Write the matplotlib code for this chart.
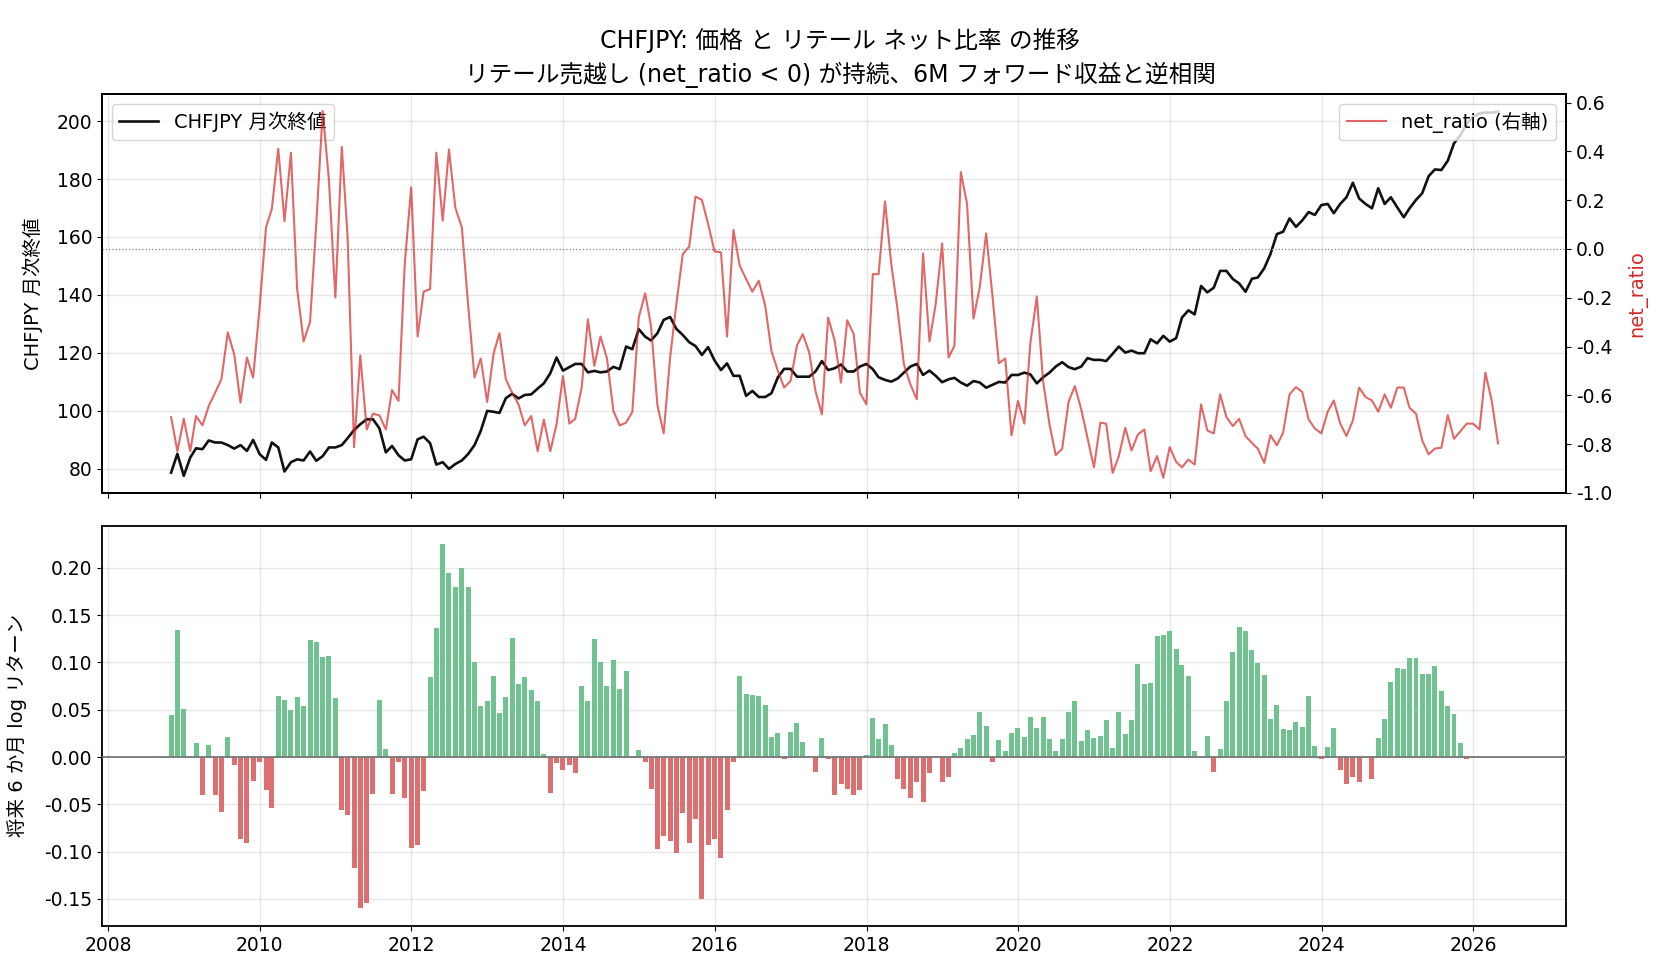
import numpy as np
import pandas as pd
import matplotlib
matplotlib.use("Agg")
import matplotlib.pyplot as plt
import matplotlib.dates as mdates

plt.rcParams['font.family'] = ['DejaVu Sans', 'Noto Sans CJK JP']
plt.rcParams['axes.unicode_minus'] = False

# ---------------- data ----------------
dates = pd.date_range(start="2008-10-31", periods=211, freq="ME")

price = [
    78.7, 85.2, 77.6, 83.9, 87.1, 86.8, 89.8, 89.1, 89.1, 88.2,
    87.0, 88.2, 86.2, 90.0, 85.1, 83.1, 89.1, 87.4, 79.1, 82.3,
    83.3, 82.9, 86.0, 82.8, 84.4, 87.4, 87.4, 88.2, 90.6, 93.4,
    95.4, 97.1, 97.1, 94.0, 85.7, 87.9, 84.7, 82.9, 83.3, 90.2,
    91.1, 88.9, 81.5, 82.3, 80.0, 81.7, 82.9, 85.1, 88.2, 93.1,
    100.0, 99.7, 99.3, 104.4, 105.9, 104.3, 105.5, 105.7, 107.7, 109.5,
    113.0, 118.4, 113.9, 115.1, 116.2, 116.2, 113.3, 113.8, 113.3, 113.6,
    115.2, 114.4, 122.2, 121.3, 128.2, 125.6, 124.3, 126.8, 131.4, 132.4,
    128.3, 126.2, 123.7, 122.4, 119.3, 122.0, 117.4, 114.1, 116.4, 112.1,
    112.1, 105.2, 106.9, 104.8, 104.8, 106.1, 111.6, 114.5, 114.5, 111.8,
    111.8, 111.8, 113.6, 117.2, 114.1, 114.7, 116.0, 113.6, 113.6, 115.3,
    116.2, 114.4, 111.6, 110.7, 110.1, 111.2, 113.2, 115.3, 116.2, 112.4,
    113.9, 112.1, 109.9, 110.9, 111.4, 109.8, 108.7, 110.3, 109.8, 108.0,
    109.0, 110.0, 109.8, 112.4, 112.4, 113.2, 112.6, 109.5, 111.6, 113.2,
    115.3, 116.8, 115.1, 114.4, 115.3, 118.2, 117.6, 117.6, 117.2, 119.7,
    122.2, 120.1, 120.8, 119.9, 119.9, 124.7, 123.3, 125.9, 123.9, 125.1,
    132.2, 134.7, 133.3, 143.1, 140.9, 142.5, 148.3, 148.3, 145.5, 144.0,
    141.1, 145.6, 146.0, 149.2, 154.1, 161.0, 161.8, 166.4, 163.5, 165.7,
    168.6, 167.6, 171.0, 171.4, 168.2, 171.4, 173.7, 178.7, 173.3, 171.4,
    169.9, 176.8, 171.4, 173.7, 170.2, 166.8, 169.9, 172.8, 175.1, 181.0,
    183.3, 183.1, 186.3, 192.3, 195.2, 199.0, 201.5, 202.6, 202.9, 202.9, 203.2,
]

net_ratio = [
    -0.689, -0.829, -0.696, -0.829, -0.685, -0.723, -0.644, -0.589, -0.534, -0.342,
    -0.432, -0.630, -0.445, -0.527, -0.240, 0.089, 0.164, 0.411, 0.114, 0.395,
    -0.164, -0.379, -0.299, 0.103, 0.566, 0.281, -0.199, 0.418, 0.048, -0.812,
    -0.436, -0.740, -0.675, -0.682, -0.740, -0.578, -0.623, -0.062, 0.253, -0.359,
    -0.175, -0.164, 0.395, 0.116, 0.408, 0.168, 0.089, -0.226, -0.527, -0.449,
    -0.627, -0.429, -0.345, -0.534, -0.589, -0.637, -0.723, -0.685, -0.829, -0.699,
    -0.829, -0.719, -0.521, -0.716, -0.696, -0.568, -0.288, -0.479, -0.359, -0.449,
    -0.664, -0.723, -0.712, -0.668, -0.281, -0.182, -0.315, -0.641, -0.756, -0.445,
    -0.226, -0.021, 0.010, 0.215, 0.201, 0.103, -0.010, -0.014, -0.359, 0.078,
    -0.068, -0.123, -0.175, -0.130, -0.233, -0.418, -0.500, -0.568, -0.541, -0.395,
    -0.349, -0.425, -0.582, -0.678, -0.281, -0.374, -0.548, -0.292, -0.349, -0.589,
    -0.637, -0.103, -0.103, 0.195, -0.062, -0.253, -0.473, -0.555, -0.616, -0.018,
    -0.379, -0.226, 0.023, -0.445, -0.397, 0.315, 0.185, -0.285, -0.158, 0.064,
    -0.199, -0.468, -0.449, -0.764, -0.623, -0.716, -0.384, -0.195, -0.541, -0.719,
    -0.845, -0.819, -0.626, -0.562, -0.658, -0.774, -0.895, -0.712, -0.716, -0.918,
    -0.849, -0.733, -0.826, -0.760, -0.740, -0.911, -0.849, -0.938, -0.812, -0.873,
    -0.895, -0.863, -0.884, -0.637, -0.744, -0.756, -0.596, -0.689, -0.726, -0.696,
    -0.767, -0.795, -0.818, -0.877, -0.763, -0.805, -0.753, -0.596, -0.566, -0.586,
    -0.699, -0.736, -0.756, -0.667, -0.621, -0.715, -0.767, -0.703, -0.568, -0.607,
    -0.621, -0.667, -0.596, -0.651, -0.568, -0.568, -0.651, -0.675, -0.785, -0.842,
    -0.818, -0.815, -0.681, -0.778, -0.747, -0.716, -0.716, -0.740, -0.507, -0.623, -0.797,
]

fwd_return = [
    0.0442, 0.134, 0.0505, 0.0, 0.0145, -0.0406, 0.0124, -0.0406, -0.0576, 0.0208,
    -0.0088, -0.0862, -0.0905, -0.0258, -0.0057, -0.0353, -0.0544, 0.0643, 0.0601, 0.0495,
    0.0633, 0.0537, 0.1237, 0.1216, 0.1057, 0.1067, 0.0622, -0.0565, -0.0618, -0.117,
    -0.160, -0.154, -0.0396, 0.0601, 0.0081, -0.0396, -0.0057, -0.0438, -0.0958, -0.0926,
    -0.0364, 0.0845, 0.1364, 0.2254, 0.1947, 0.1799, 0.2000, 0.1799, 0.1004, 0.0537,
    0.059, 0.0855, 0.0463, 0.0633, 0.1258, 0.077, 0.0845, 0.0707, 0.059, 0.0028,
    -0.0385, -0.0067, -0.0141, -0.0088, -0.0173, 0.0749, 0.059, 0.1247, 0.1004, 0.0749,
    0.1025, 0.0717, 0.0908, -0.001, 0.0071, -0.0057, -0.0343, -0.0968, -0.083, -0.0883,
    -0.101, -0.0587, -0.0905, -0.065, -0.1498, -0.0926, -0.0862, -0.1064, -0.0555, -0.0057,
    0.0855, 0.0664, 0.0654, 0.0643, 0.0548, 0.0208, 0.0251, -0.0025, 0.0261, 0.0357,
    0.0155, 0.0, -0.0163, 0.0198, -0.0025, -0.0406, -0.029, -0.0343, -0.0406, -0.0353,
    0.0018, 0.041, 0.0187, 0.0346, 0.0124, -0.0237, -0.0343, -0.0428, -0.0269, -0.048,
    -0.0173, 0.0, -0.0269, -0.0216, 0.0039, 0.0092, 0.0187, 0.023, 0.0473, 0.0325,
    -0.0057, 0.0177, 0.006, 0.0251, 0.0304, 0.0208, 0.042, 0.0304, 0.042, 0.0187,
    0.006, 0.0187, 0.0473, 0.059, 0.0166, 0.0283, 0.0198, 0.0219, 0.0389, 0.0092,
    0.0473, 0.024, 0.0389, 0.0982, 0.077, 0.0781, 0.1279, 0.129, 0.1332, 0.1141,
    0.0972, 0.0855, 0.006, 0.0, 0.0219, -0.0163, 0.0081, 0.059, 0.111, 0.1375,
    0.1332, 0.1131, 0.0993, 0.0866, 0.0399, 0.0548, 0.0293, 0.0283, 0.0367, 0.0314,
    0.0643, 0.0113, -0.0025, 0.0102, 0.0304, -0.0141, -0.029, -0.0216, -0.0269, 0.0,
    -0.0237, 0.0198, 0.0399, 0.0792, 0.094, 0.0929, 0.1046, 0.1046, 0.0876, 0.0876,
    0.0961, 0.0696, 0.0537, 0.0452, 0.0145, -0.0025,
]

title_text = ("CHFJPY: 価格 と リテール ネット比率 の推移\n"
              "リテール売越し (net_ratio < 0) が持続、6M フォワード収益と逆相関")

# ---------------- figure ----------------
fig = plt.figure(figsize=(16.8, 9.8), dpi=100)
ax1 = fig.add_axes([0.0607, 0.497, 0.8714, 0.407])
ax3 = fig.add_axes([0.0607, 0.0551, 0.8714, 0.4085], sharex=ax1)
ax2 = ax1.twinx()

TICK = 13.5
LAB = 14

# top panel: price
ax1.plot(dates, price, color="#111111", lw=1.9, label="CHFJPY 月次終値", zorder=3)
ax1.set_ylim(71.7, 209.3)
ax1.set_ylabel("CHFJPY 月次終値", fontsize=LAB, labelpad=10)
ax1.grid(True, color="#b0b0b0", alpha=0.3, lw=1)
ax1.tick_params(labelsize=TICK, labelbottom=False)

# top panel: net ratio on the right axis
ax2.plot(dates, net_ratio, color="#d62728", alpha=0.7, lw=1.5, label="net_ratio (右軸)")
ax2.axhline(0, color="gray", ls=":", lw=0.9)
ax2.set_ylim(-1.0, 0.635)
ax2.set_ylabel("net_ratio", color="#d62728", fontsize=LAB, labelpad=11)
ax2.tick_params(labelsize=TICK)

ax1.legend(loc="upper left", fontsize=LAB)
ax2.legend(loc="upper right", fontsize=LAB)

for ax in (ax1, ax2):
    for s in ax.spines.values():
        s.set_linewidth(1.3)

# bottom panel: forward return bars
bar_dates = dates[:len(fwd_return)]
colors = ["#70c391" if v >= 0 else "#dc7070" for v in fwd_return]
ax3.bar(bar_dates, fwd_return, width=24, color=colors, zorder=2)
ax3.axhline(0, color="#777777", lw=1.3, zorder=3)
ax3.set_ylim(-0.1786, 0.2445)
ax3.set_ylabel("将来 6 か月 log リターン", fontsize=LAB, labelpad=12)
ax3.grid(True, color="#b0b0b0", alpha=0.3, lw=1, zorder=0)
ax3.set_axisbelow(True)
ax3.tick_params(labelsize=TICK)
ax3.yaxis.set_major_formatter(matplotlib.ticker.FormatStrFormatter("%.2f"))
for s in ax3.spines.values():
    s.set_linewidth(1.3)

ax3.xaxis.set_major_locator(mdates.YearLocator(2))
ax3.xaxis.set_major_formatter(mdates.DateFormatter("%Y"))
ax3.set_xlim(pd.Timestamp("2007-12-03"), pd.Timestamp("2027-03-23"))

fig.text(0.5, 0.941, title_text, fontsize=17, ha="center", va="center",
         linespacing=1.45)

fig.savefig("out.png", dpi=100)
